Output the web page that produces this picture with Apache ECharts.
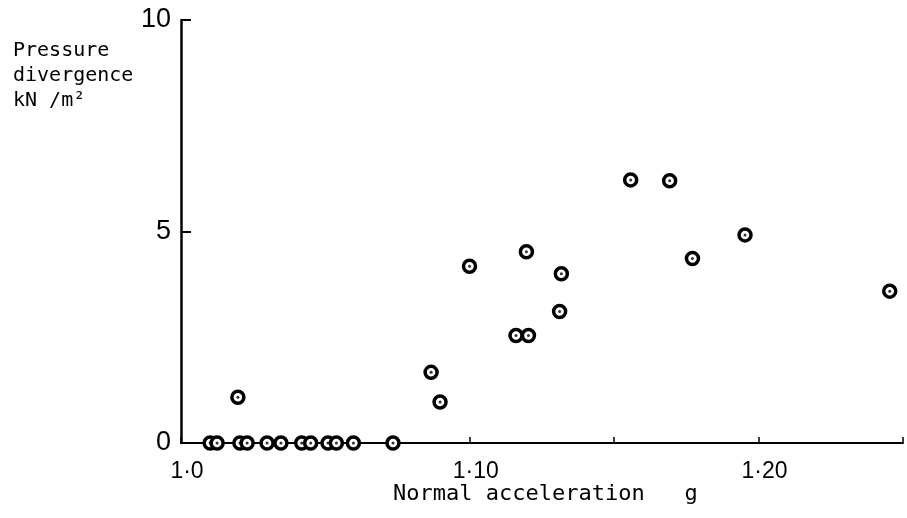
<!DOCTYPE html>
<html><head><meta charset="utf-8">
<script src="https://cdn.jsdelivr.net/npm/echarts@6/dist/echarts.min.js"></script>
<style>html,body{margin:0;padding:0;background:#fff}#c{width:907px;height:518px}</style>
</head><body><div id="c"></div>
<script>
// Normal acceleration (g)
const accel = [1.0101,1.0125,1.0204,1.0229,1.0298,1.0346,1.0418,1.0449,1.0509,1.0538,1.0597,1.0734,
  1.0197,1.0866,1.0897,1.0999,1.1160,1.1203,1.1196,1.1317,1.1311,1.1557,1.1692,1.1771,1.1953,1.2454];
// Pressure divergence (kN/m^2)
const pressure = [0,0,0,0,0,0,0,0,0,0,0,0,
  1.08,1.67,0.97,4.18,2.54,2.54,4.52,4.00,3.11,6.22,6.20,4.36,4.92,3.59];
const xTickLabels = {'1.00':'1·0','1.10':'1·10','1.20':'1·20'};
const yTickLabels = [0,5,10];

const pts = accel.map((x,i)=>[x,pressure[i]]);
const font = 'Liberation Sans, Arial, sans-serif';
const mono = 'DejaVu Sans Mono, monospace';
const chart = echarts.init(document.getElementById('c'));
chart.setOption({
  animation:false,
  backgroundColor:'#fff',
  grid:{left:181,right:4,top:20,bottom:75,containLabel:false},
  xAxis:{type:'value',min:1.0,max:1.25,interval:0.05,
    axisLine:{lineStyle:{color:'#000',width:2}},
    axisTick:{inside:true,length:6,lineStyle:{color:'#000',width:1.5}},
    splitLine:{show:false},
    axisLabel:{color:'#000',fontSize:23,fontFamily:font,margin:17,padding:[0,0,0,12],
      formatter:v=>xTickLabels[v.toFixed(2)]||''}},
  yAxis:{type:'value',min:0,max:10,interval:5,
    axisLine:{show:true,lineStyle:{color:'#000',width:2.5}},
    axisTick:{show:true,inside:true,length:10,lineStyle:{color:'#000',width:2}},
    splitLine:{show:false},
    axisLabel:{color:'#000',fontSize:27,fontFamily:font,margin:10,
      formatter:v=>yTickLabels.includes(v)?String(v):''}},
  graphic:[
    {type:'text',left:13,top:38,style:{text:'Pressure\ndivergence\nkN /m²',
      fontSize:20,lineHeight:25,fontFamily:mono,fill:'#000'}},
    {type:'text',left:393,top:483,style:{text:'Normal acceleration   g',
      fontSize:22,fontFamily:mono,fill:'#000'}}
  ],
  series:[
    {type:'scatter',data:pts,symbol:'circle',symbolSize:12,
      itemStyle:{color:'#fff',borderColor:'#000',borderWidth:3.5,opacity:1},z:2},
    {type:'scatter',data:pts,symbol:'circle',symbolSize:3,
      itemStyle:{color:'#000'},z:3}
  ]
});
</script></body></html>
